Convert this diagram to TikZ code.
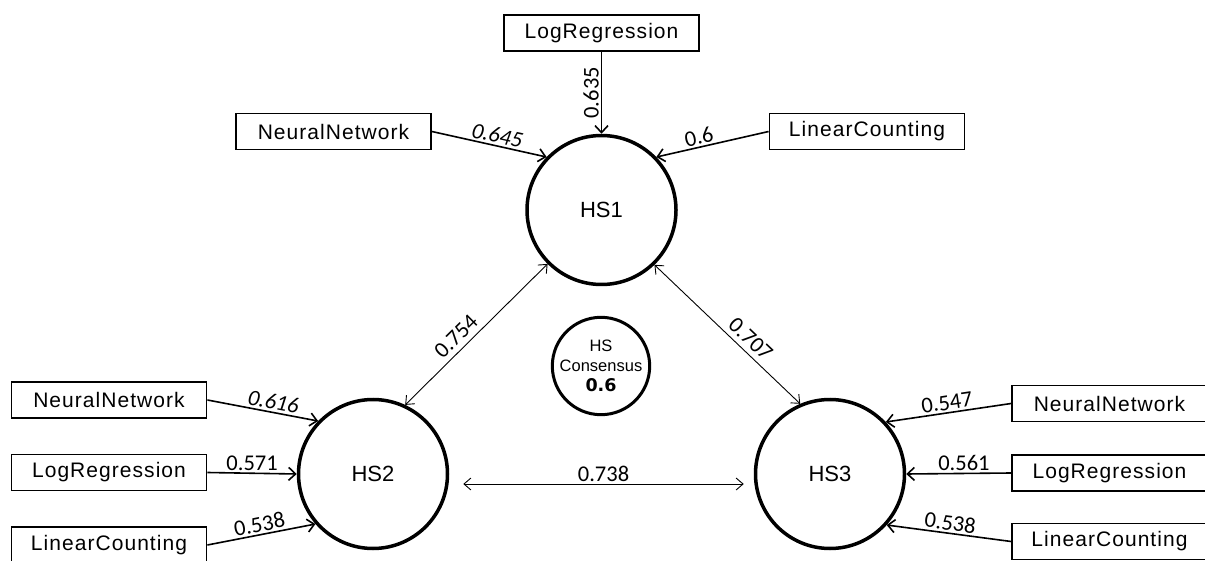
\documentclass[tikz,border=0pt]{standalone}
\usepackage{fontspec}
\setmainfont{Liberation Sans}
\newfontfamily\boxfont[LetterSpace=5]{Liberation Sans}
\newfontfamily\numfont{Carlito}
\newfontfamily\consfont{DejaVu Sans}
\usetikzlibrary{arrows.meta}

\begin{document}
\begin{tikzpicture}[x=1pt,y=-1pt,
  indicator/.style={draw, line width=1.8pt, minimum width=195pt, minimum height=36pt,
    inner sep=0pt, font=\boxfont\fontsize{21}{25}\selectfont},
  latent/.style={circle, draw, line width=3.5pt, minimum size=149pt, inner sep=0pt,
    font=\fontsize{22}{26}\selectfont},
  consensus/.style={circle, draw, line width=3pt, minimum size=95pt, inner sep=0pt,
    align=center, font=\fontsize{16.5}{20}\selectfont},
  load/.style={line width=1.6pt, -{Straight Barb[length=7pt,width=13pt]}},
  corr/.style={line width=0.9pt,
    {Straight Barb[length=7pt,width=12pt]}-{Straight Barb[length=7pt,width=12pt]}},
  val/.style={font=\numfont\fontsize{22.5}{26}\selectfont, inner sep=2pt},
]
\useasboundingbox (0,0) rectangle (1205,561);
\clip (0,0) rectangle (1205,561);

% latent constructs
\node[latent] (HS1) at (601.5,210) {HS1};
\node[latent] (HS2) at (373,474) {HS2};
\node[latent] (HS3) at (830,474) {HS3};
\node[consensus] (cons) at (601,366)
  {HS\\Consensus\\{\consfont\bfseries\fontsize{17.5}{20}\selectfont 0.6}};

% indicators
\node[indicator] (tLR) at (601.5,33) {LogRegression};
\node[indicator] (tNN) at (333.5,131.5) {NeuralNetwork};
\node[indicator] (tLC) at (867,131.5) {LinearCounting};
\node[indicator] (lNN) at (109,400) {NeuralNetwork};
\node[indicator] (lLR) at (109,472.5) {LogRegression};
\node[indicator] (lLC) at (109,545) {LinearCounting};
\node[indicator] (rNN) at (1109.5,403.5) {NeuralNetwork};
\node[indicator] (rLR) at (1109.5,473) {LogRegression};
\node[indicator] (rLC) at (1109.5,541.5) {LinearCounting};

% loadings on HS1
\draw[load] (tLR) -- (HS1.north)
  node[val, midway, rotate=90, anchor=south] {0.635};
\draw[load] (tNN.east) -- (HS1.136)
  node[val, pos=0.55, sloped, above] {\itshape 0.645};
\draw[load] (tLC.west) -- (HS1.44)
  node[val, pos=0.6, sloped, above] {0.6};

% loadings on HS2
\draw[load] (lNN.east) -- (HS2.136)
  node[val, pos=0.58, sloped, above] {\itshape 0.616};
\draw[load] (lLR.east) -- (HS2.west)
  node[val, midway, above] {0.571};
\draw[load] (lLC.east) -- (HS2.221)
  node[val, midway, sloped, above] {0.538};

% loadings on HS3
\draw[load] (rNN.west) -- (HS3.43)
  node[val, midway, sloped, above] {0.547};
\draw[load] (rLR.west) -- (HS3.east)
  node[val, pos=0.45, above] {0.561};
\draw[load] (rLC.west) -- (HS3.318)
  node[val, midway, sloped, above] {0.538};

% correlations between constructs
\draw[corr] (HS2.65) -- (HS1.225)
  node[val, pos=0.42, sloped, above=3pt] {0.754};
\draw[corr] (HS1.314) -- (HS3.113)
  node[val, pos=0.6, sloped, above=3pt] {0.707};
\draw[corr] ([xshift=14pt,yshift=-10pt]HS2.east) -- ([xshift=-10pt,yshift=-10pt]HS3.west)
  node[val, midway, above] {0.738};
\end{tikzpicture}
\end{document}
